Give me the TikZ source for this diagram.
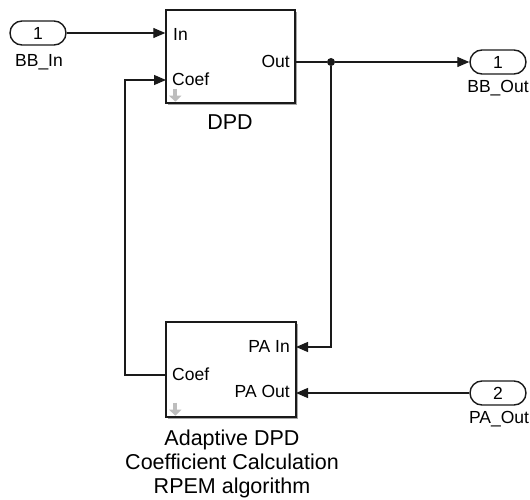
\documentclass[tikz,border=0pt]{standalone}
\usepackage{fontspec}
\setmainfont{Liberation Sans}
\usetikzlibrary{arrows.meta,positioning,calc,shapes.misc,shadows}
\definecolor{ink}{HTML}{1A1A1A}
\definecolor{icon}{HTML}{BDBDBD}

\begin{document}
\begin{tikzpicture}[
  x=1pt, y=-1pt,
  font=\fontsize{17.5}{20}\selectfont,
  block/.style={draw=ink, line width=1.4pt, fill=white,
    drop shadow={shadow xshift=2pt, shadow yshift=-2pt, fill=black!35, opacity=1}},
  port/.style={draw=ink, line width=1.4pt, rounded rectangle, fill=white,
    minimum width=56pt, minimum height=24pt, inner sep=0pt},
  portname/.style={font=\fontsize{17.5}{20}\selectfont, inner sep=0pt},
  blockname/.style={font=\fontsize{21.5}{24}\selectfont, align=center, inner sep=0pt},
  pin/.style={inner sep=0pt},
  wire/.style={draw=ink, line width=1.2pt},
  sig/.style={wire, -{Triangle[length=12pt,width=10pt]}},
  updown/.style={draw=icon, line width=4pt, -{Triangle[length=6pt,width=12pt]}}
]
  \useasboundingbox (0,0) rectangle (530,500);

  % inports / outports
  \node[port] (bbin) at (38,33) {1};
  \node[portname] (bbinname) at (39,62) {BB\_In};
  \node[port] (bbout) at (498,62) {1};
  \node[portname] (bboutname) at (498,88) {BB\_Out};
  \node[port] (paout) at (498,393) {2};
  \node[portname] (paoutname) at (499,419) {PA\_Out};

  % DPD block
  \node[block, minimum width=129pt, minimum height=93pt] (dpd) at (230.5,56.5) {};
  \node[pin, anchor=west] (dpdin) at (173,34) {In};
  \node[pin, anchor=west] (dpdcoef) at (172,79) {Coef};
  \node[pin, anchor=east] (dpdout) at (290,61) {Out};
  \node[blockname] (dpdname) at (230,122) {DPD};
  \draw[updown] ($(dpd.south west)+(10,-15)$) -- ++(0,13);

  % adaptive coefficient block
  \node[block, minimum width=130pt, minimum height=95pt] (adpd) at (231,369.5) {};
  \node[pin, anchor=east] (adpdpain) at (290,346) {PA In};
  \node[pin, anchor=west] (adpdcoef) at (172,374) {Coef};
  \node[pin, anchor=east] (adpdpaout) at (290,391) {PA Out};
  \node[blockname] (adpdname) at (232,464)
    {Adaptive DPD\\Coefficient Calculation\\RPEM algorithm};
  \draw[updown] ($(adpd.south west)+(10,-15)$) -- ++(0,13);

  % port positions on the block edges
  \coordinate (inA) at (dpd.west |- bbin);
  \coordinate (coefA) at (166,80);
  \coordinate (outA) at (295,62);
  \coordinate (painB) at (296,347);
  \coordinate (coefB) at (166,375);
  \coordinate (paoutB) at (296,393);
  \node[circle, fill=ink, inner sep=0pt, minimum size=8pt] (junction) at (331,62) {};

  \draw[sig] (bbin.east) -- (inA);
  \draw[wire] (outA) -- (junction);
  \draw[sig] (junction) -- (bbout.west);
  \draw[sig] (junction) |- (painB);
  \draw[sig] (paout.west) -- (paoutB);
  \draw[sig] (coefB) -- ++(-41,0) |- (coefA);
\end{tikzpicture}
\end{document}
